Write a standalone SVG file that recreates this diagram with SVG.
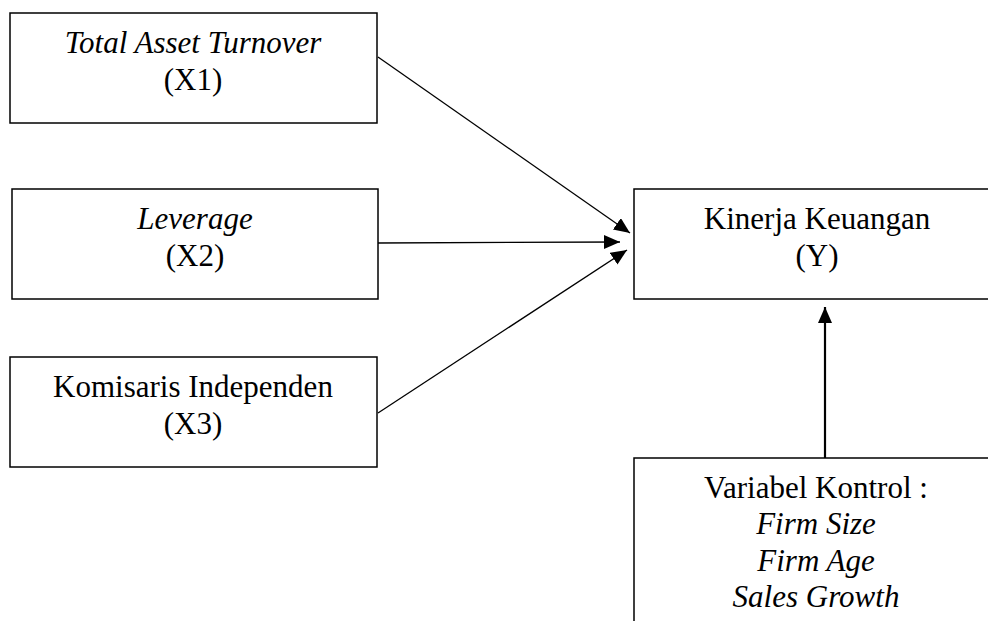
<svg xmlns="http://www.w3.org/2000/svg" width="988" height="621" viewBox="0 0 988 621">
<style>
.box{fill:#fff;stroke:#000;stroke-width:1.5}
.t{font-family:"Liberation Serif","Times New Roman",serif;font-size:31px;fill:#000;text-anchor:middle}
.i{font-style:italic}
.c{stroke:#000;stroke-width:1.3;fill:none}
.v{stroke:#000;stroke-width:2.2;fill:none}
</style>
<defs>
<marker id="ah" markerUnits="userSpaceOnUse" markerWidth="17" markerHeight="15" refX="16" refY="7" orient="auto">
<path d="M0,0 L16,7 L0,14 z" fill="#000"/>
</marker>
</defs>
<rect width="988" height="621" fill="#fff"/>
<g id="connectors">
<line class="c" x1="378" y1="57" x2="630" y2="233" marker-end="url(#ah)"/>
<line class="c" x1="378" y1="243" x2="620" y2="242" marker-end="url(#ah)"/>
<line class="c" x1="378" y1="413" x2="627" y2="250" marker-end="url(#ah)"/>
<line class="v" x1="825" y1="458" x2="825" y2="307" marker-end="url(#ah)"/>
</g>
<g id="x1">
<rect class="box" x="10" y="13" width="367" height="110"/>
<text class="t i" x="193" y="53">Total Asset Turnover</text>
<text class="t" x="193" y="90">(X1)</text>
</g>
<g id="x2">
<rect class="box" x="12" y="189" width="366" height="110"/>
<text class="t i" x="195" y="229">Leverage</text>
<text class="t" x="195" y="266">(X2)</text>
</g>
<g id="x3">
<rect class="box" x="10" y="357" width="367" height="110"/>
<text class="t" x="193" y="397">Komisaris Independen</text>
<text class="t" x="193" y="434">(X3)</text>
</g>
<g id="y">
<rect class="box" x="634" y="189" width="370" height="110"/>
<text class="t" x="817" y="229">Kinerja Keuangan</text>
<text class="t" x="817" y="266">(Y)</text>
</g>
<g id="control">
<rect class="box" x="634" y="458" width="370" height="200"/>
<text class="t" x="816" y="498">Variabel Kontrol :</text>
<text class="t i" x="816" y="534">Firm Size</text>
<text class="t i" x="816" y="571">Firm Age</text>
<text class="t i" x="816" y="607">Sales Growth</text>
</g>
</svg>
